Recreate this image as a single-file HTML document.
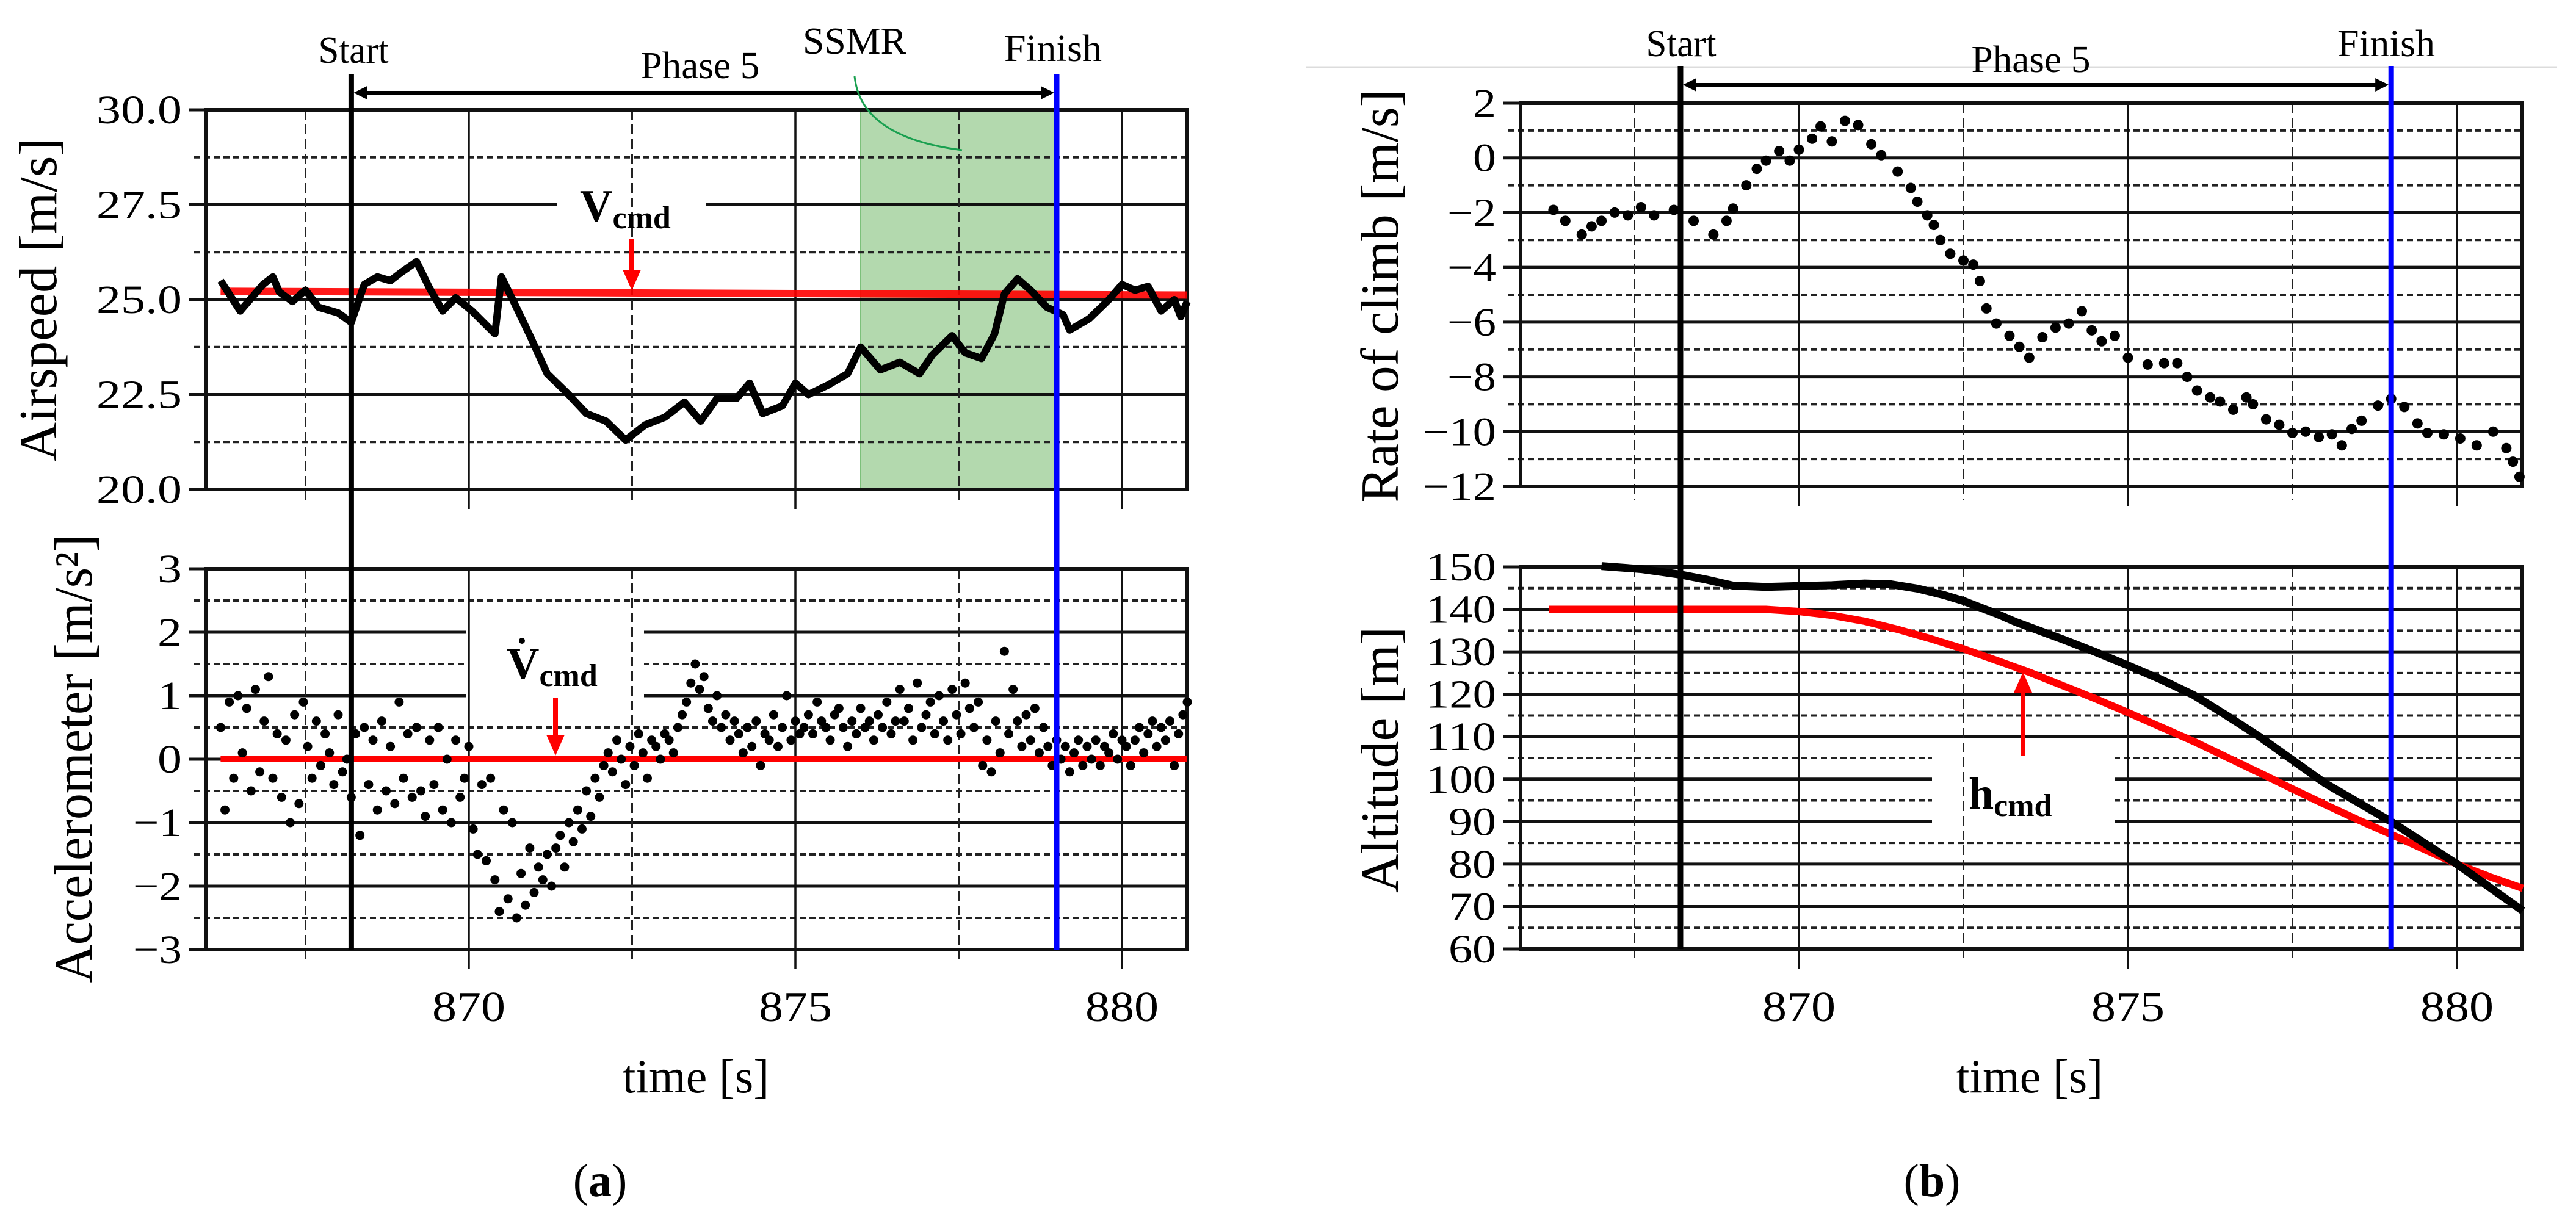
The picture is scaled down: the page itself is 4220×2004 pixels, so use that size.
<!DOCTYPE html>
<html><head><meta charset="utf-8"><style>
html,body{margin:0;padding:0;background:#fff;}
svg{display:block;}
text{font-family:"Liberation Serif",serif;fill:#000;}
</style></head><body>
<svg id="fig" width="4220" height="2004" viewBox="0 0 4220 2004" xmlns="http://www.w3.org/2000/svg"></svg>
<script>
// ---------- data ----------
const airspeedT = [866.2,866.5,866.7,866.85,867.0,867.1,867.3,867.5,867.7,868.0,868.2,868.4,868.6,868.8,868.95,869.2,869.4,869.6,869.8,870.05,870.4,870.5,870.7,870.95,871.2,871.5,871.8,872.1,872.4,872.7,873.0,873.3,873.55,873.8,874.1,874.3,874.5,874.8,875.0,875.2,875.5,875.8,876.0,876.3,876.6,876.9,877.1,877.4,877.6,877.85,878.05,878.2,878.4,878.6,878.85,879.1,879.2,879.5,879.8,880.0,880.2,880.4,880.6,880.8,880.9,881.0];
const airspeedV = [25.5,24.7,25.1,25.4,25.6,25.2,24.95,25.25,24.8,24.65,24.4,25.4,25.6,25.5,25.7,26.0,25.3,24.7,25.05,24.7,24.1,25.6,24.9,24.0,23.05,22.55,22.0,21.8,21.3,21.7,21.9,22.3,21.8,22.4,22.4,22.8,22.0,22.2,22.8,22.5,22.75,23.05,23.75,23.15,23.35,23.05,23.55,24.05,23.6,23.45,24.1,25.15,25.55,25.25,24.8,24.6,24.2,24.5,25.0,25.4,25.25,25.35,24.7,25.0,24.55,24.95];
const vcmdT = [866.2, 881.0];
const vcmdV = [25.22, 25.12];
const accStart = 866.2;
const accStep = 1/15;
const accV = [0.5,-0.8,0.9,-0.3,1.0,0.1,0.8,-0.5,1.1,-0.2,0.6,1.3,-0.3,0.4,-0.6,
0.3,-1.0,0.7,-0.7,0.9,0.2,-0.3,0.6,-0.1,0.4,0.1,-0.4,0.7,-0.2,0.0,
-0.6,0.4,-1.2,0.5,-0.4,0.3,-0.8,0.6,-0.5,0.2,-0.7,0.9,-0.3,0.4,-0.6,
0.5,-0.5,-0.9,0.3,-0.4,0.5,-0.8,0.0,-1.0,0.3,-0.6,-0.3,0.2,-1.1,-1.5,
-0.4,-1.6,-0.3,-1.9,-2.4,-0.8,-2.2,-1.0,-2.5,-1.8,-2.3,-1.4,-2.1,-1.7,-1.9,
-1.5,-2.0,-1.4,-1.2,-1.7,-1.0,-1.3,-0.8,-1.1,-0.5,-0.9,-0.3,-0.6,-0.1,0.1,
-0.2,0.3,0.0,-0.4,0.2,-0.1,0.4,0.1,-0.3,0.3,0.2,0.0,0.4,0.3,0.1,
0.5,0.7,0.9,1.2,1.5,1.1,1.3,0.8,0.6,1.0,0.5,0.7,0.3,0.6,0.4,
0.1,0.5,0.2,0.6,-0.1,0.4,0.3,0.7,0.2,0.5,1.0,0.3,0.6,0.4,0.5,
0.7,0.4,0.9,0.6,0.5,0.3,0.7,0.8,0.5,0.2,0.6,0.4,0.8,0.5,0.6,
0.3,0.7,0.5,0.9,0.4,0.6,1.1,0.6,0.8,0.3,1.2,0.5,0.7,0.9,0.4,
1.0,0.6,0.3,1.1,0.7,0.4,1.2,0.8,0.5,0.9,-0.1,0.3,-0.2,0.6,0.1,
1.7,0.4,1.1,0.6,0.2,0.7,0.3,0.8,0.1,0.5,0.2,-0.1,0.3,0.0,0.2,
-0.2,0.1,0.3,-0.1,0.2,0.0,0.3,-0.1,0.2,0.1,0.4,0.0,0.3,0.2,-0.1,
0.3,0.5,0.1,0.4,0.6,0.2,0.5,0.3,0.6,-0.1,0.4,0.7,0.9];
const rocT = [866.27,866.45,866.7,866.85,867.0,867.2,867.4,867.6,867.8,868.1,868.4,868.7,868.9,869.0,869.2,869.36,869.5,869.7,869.86,870.0,870.2,870.33,870.5,870.7,870.9,871.1,871.25,871.5,871.7,871.8,871.95,872.05,872.15,872.3,872.5,872.65,872.75,872.85,873.0,873.2,873.35,873.5,873.7,873.9,874.1,874.3,874.45,874.6,874.8,875.0,875.3,875.55,875.75,875.9,876.05,876.25,876.4,876.6,876.8,876.9,877.1,877.3,877.5,877.7,877.9,878.1,878.25,878.4,878.55,878.8,879.0,879.2,879.4,879.55,879.8,880.05,880.3,880.55,880.75,880.85,880.95];
const rocV = [-1.9,-2.3,-2.8,-2.5,-2.3,-2.0,-2.1,-1.8,-2.1,-1.9,-2.3,-2.8,-2.3,-1.85,-1.0,-0.4,-0.1,0.25,-0.1,0.3,0.7,1.15,0.6,1.35,1.2,0.5,0.1,-0.5,-1.1,-1.6,-2.1,-2.45,-3.0,-3.5,-3.75,-3.9,-4.5,-5.5,-6.05,-6.5,-6.9,-7.3,-6.55,-6.2,-6.05,-5.6,-6.3,-6.7,-6.5,-7.3,-7.55,-7.5,-7.5,-8.0,-8.5,-8.75,-8.9,-9.2,-8.75,-9.0,-9.55,-9.75,-10.05,-10.0,-10.2,-10.1,-10.5,-9.9,-9.6,-9.05,-8.8,-9.1,-9.7,-10.05,-10.1,-10.25,-10.5,-10.0,-10.6,-11.1,-11.65];
const altT = [867.0,867.6,868.2,868.6,869.0,869.5,870.0,870.5,871.0,871.4,871.8,872.2,872.5,873.0,873.3,874.0,874.5,875.0,875.5,876.0,876.5,877.0,877.5,878.0,878.5,879.0,879.5,880.0,880.5,881.0];
const altV = [150.2,149.5,148.2,147,145.6,145.3,145.5,145.7,146.1,145.9,144.9,143.4,142,139,137,133,130,126.8,123.5,119.8,115,110,104.5,99,94.5,90,85,80,74.5,69];
const hcmdT = [866.2,867.0,868.0,869.0,869.5,870.0,870.5,871.0,871.5,872.0,872.5,873.0,873.5,874.0,874.5,875.0,875.5,876.0,876.5,877.0,877.5,878.0,878.5,879.0,879.5,880.0,880.5,881.0];
const hcmdV = [140,140,140,140,140,139.5,138.6,137.2,135.3,133.1,130.7,128,125.2,122.1,119,115.7,112.3,108.9,105.2,101.5,97.7,94,90.4,87,83.5,80,77,74.3];
const xTicks = [870, 875, 880];
const xMinor = [867.5, 872.5, 877.5];
const airTicks = ["30.0","27.5","25.0","22.5","20.0"];
const accTicks = ["3","2","1","0","\u22121","\u22122","\u22123"];
const rocTicks = ["2","0","\u22122","\u22124","\u22126","\u22128","\u221210","\u221212"];
const altTicks = ["150","140","130","120","110","100","90","80","70","60"];
const tStart = 868.2, tFinish = 879.0, ssmrStart = 876.0;

// ---------- helpers ----------
const NS = "http://www.w3.org/2000/svg";
const svg = document.getElementById("fig");
function mk(tag, attrs, parent){
  const e = document.createElementNS(NS, tag);
  for (const k in attrs) e.setAttribute(k, attrs[k]);
  (parent||svg).appendChild(e);
  return e;
}
function lin(d0,d1,r0,r1){ return v => r0 + (v-d0)*(r1-r0)/(d1-d0); }
function txt(x,y,s,size,anchor,parent,extra){
  const t = mk("text", Object.assign({x:x,y:y,"font-size":size,"text-anchor":anchor||"middle"}, extra||{}), parent);
  t.textContent = s; return t;
}

function panel(o){
  const g = mk("g", {});
  
  
  const X = o.x, Y = o.y;
  o.yMajors.forEach(v=>{
    const l = mk("line",{x1:o.L-28,x2:o.R,y1:Y(v),y2:Y(v),stroke:"#111","stroke-width":5},g);
    
    
  });
  o.yMinors.forEach(v=>{
    const l = mk("line",{x1:o.L-20,x2:o.R,y1:Y(v),y2:Y(v),stroke:"#222","stroke-width":4,"stroke-dasharray":"10 6"},g);
    
    
  });
  if (o.box) {
    const b = mk("rect",{x:o.box[0],y:o.box[1],width:o.box[2],height:o.box[3],fill:"#fff"},g);
    
    
  }
  xTicks.forEach(t=>{
    const l = mk("line",{x1:X(t),x2:X(t),y1:o.T,y2:o.B+32,stroke:"#111","stroke-width":3.5},g);
    
    
  });
  xMinor.forEach(t=>{
    const l = mk("line",{x1:X(t),x2:X(t),y1:o.T,y2:o.B+22,stroke:"#222","stroke-width":3,"stroke-dasharray":"16 8"},g);
    
    
  });
  const f = mk("rect",{x:o.L,y:o.T,width:o.R-o.L,height:o.B-o.T,fill:"none",stroke:"#111","stroke-width":6},g);
  
  
  o.tickVals.forEach((v,i)=>{
    const t = txt(o.L-40, Y(v)+22, o.tickLabels[i], 66, "end", g, {"textLength":o.tickW[i], "lengthAdjust":"spacingAndGlyphs"});
    
    
  });
  if (o.xLabels) xTicks.forEach(t=>{
    const s = txt(X(t), 1673, String(t), 70, "middle", g, {"textLength":120,"lengthAdjust":"spacingAndGlyphs"});
    
    
  });
  const yt = txt(0,0,o.title,88,"middle",g,{transform:`translate(${o.titleX},${o.titleY}) rotate(-90)`,textLength:o.titleLen,lengthAdjust:"spacingAndGlyphs"});
  
  
  return g;
}

// ---------- LEFT TOP: airspeed ----------
const xl = lin(870,875,768,1303);
const yAir = lin(30,20,180,802);
const band = mk("rect",{x:xl(ssmrStart),y:180,width:xl(tFinish)-xl(ssmrStart),height:622,fill:"#b3d9ae",stroke:"#7cc07a","stroke-width":2});


const pA = panel({name:"airspeed-panel",x:xl,y:yAir,L:338,R:1944,T:180,B:802,
  yMajors:[30,27.5,25,22.5,20], yMinors:[28.75,26.25,23.75,21.25],
  box:[913,305,244,70],
  tickVals:[30,27.5,25,22.5,20], tickLabels:airTicks, tickW:[140,140,140,140,140],
  title:"Airspeed [m/s]", titleX:92, titleY:491, titleLen:530});
const vcmdLine = mk("polyline",{points:vcmdT.map((t,i)=>xl(t)+","+yAir(vcmdV[i])).join(" "),stroke:"#ff0000","stroke-width":12,fill:"none","stroke-opacity":0.9});


const airLine = mk("polyline",{points:airspeedT.map((t,i)=>xl(t)+","+yAir(airspeedV[i])).join(" "),stroke:"#000","stroke-width":12,fill:"none","stroke-linejoin":"round"});


const vl = mk("text",{x:950,y:362,"font-size":74,"font-weight":"bold"});
vl.innerHTML = 'V<tspan font-size="52" dy="12">cmd</tspan>';



// ---------- LEFT BOTTOM: accelerometer ----------
const yAcc = lin(3,-3,932,1556);
const pB = panel({name:"accelerometer-panel",x:xl,y:yAcc,L:338,R:1944,T:932,B:1556,
  yMajors:[3,2,1,0,-1,-2,-3], yMinors:[2.5,1.5,0.5,-0.5,-1.5,-2.5],
  box:[764,1013,291,130],
  tickVals:[3,2,1,0,-1,-2,-3], tickLabels:accTicks, tickW:[40,40,40,40,80,80,80],
  title:"Accelerometer [m/s\u00B2]", titleX:150, titleY:1243, titleLen:735, xLabels:true});
const zeroLine = mk("line",{x1:xl(866.2),x2:1944,y1:yAcc(0),y2:yAcc(0),stroke:"#ff0000","stroke-width":10});


const accG = mk("g",{fill:"#000"});


accV.forEach((v,i)=>{
  const c = mk("circle",{cx:xl(accStart+i*accStep),cy:yAcc(v),r:7.5},accG);
  
  
});
const vdl = mk("text",{x:830,y:1112,"font-size":74,"font-weight":"bold"});
vdl.innerHTML = 'V<tspan font-size="52" dy="12">cmd</tspan>';


const dot = mk("circle",{cx:855,cy:1050,r:5,fill:"#000"});



// ---------- RIGHT TOP: rate of climb ----------
const xr = lin(870,875,2947,3486);
const yRoc = lin(2,-12,169,797);
const sep = mk("line",{x1:2140,x2:4189,y1:110,y2:110,stroke:"#dcdcdc","stroke-width":3});


const pC = panel({name:"rate-of-climb-panel",x:xr,y:yRoc,L:2491,R:4132,T:169,B:797,
  yMajors:[2,0,-2,-4,-6,-8,-10,-12], yMinors:[1,-1,-3,-5,-7,-9,-11],
  tickVals:[2,0,-2,-4,-6,-8,-10,-12], tickLabels:rocTicks, tickW:[38,38,80,80,80,80,120,120],
  title:"Rate of climb [m/s]", titleX:2290, titleY:485, titleLen:677});
const rocG = mk("g",{fill:"#000"});


rocT.forEach((t,i)=>{
  const c = mk("circle",{cx:xr(t),cy:yRoc(rocV[i]),r:8.5},rocG);
  
  
});

// ---------- RIGHT BOTTOM: altitude ----------
const yAlt = lin(150,60,929,1555);
const pD = panel({name:"altitude-panel",x:xr,y:yAlt,L:2491,R:4132,T:929,B:1555,
  yMajors:[150,140,130,120,110,100,90,80,70,60], yMinors:[145,135,125,115,105,95,85,75,65],
  box:[3165,1231,300,120],
  tickVals:[150,140,130,120,110,100,90,80,70,60], tickLabels:altTicks, tickW:[115,115,115,115,115,115,78,78,78,78],
  title:"Altitude [m]", titleX:2290, titleY:1245, titleLen:436, xLabels:true});
const hLine = mk("polyline",{points:hcmdT.map((t,i)=>xr(t)+","+yAlt(hcmdV[i])).join(" "),stroke:"#ff0000","stroke-width":12,fill:"none"});


const aLine = mk("polyline",{points:altT.map((t,i)=>xr(t)+","+yAlt(altV[i])).join(" "),stroke:"#000","stroke-width":13,fill:"none"});


const hl = mk("text",{x:3225,y:1325,"font-size":74,"font-weight":"bold"});
hl.innerHTML = 'h<tspan font-size="52" dy="12">cmd</tspan>';



// ---------- event lines & annotations ----------
function vline(x,y1,y2,color,name){
  const l = mk("line",{x1:x,x2:x,y1:y1,y2:y2,stroke:color,"stroke-width":9});
  
  
}
vline(xl(tStart),121,1556,"#000","start-line-a");
vline(xl(tFinish),121,1556,"#0000ff","finish-line-a");
vline(xr(tStart),108,1555,"#000","start-line-b");
vline(xr(tFinish),108,1555,"#0000ff","finish-line-b");

function dblArrow(x1,x2,y,name){
  const g = mk("g",{});
  
  
  mk("line",{x1:x1+10,x2:x2-10,y1:y,y2:y,stroke:"#000","stroke-width":6},g);
  mk("polygon",{points:`${x1},${y} ${x1+22},${y-11} ${x1+22},${y+11}`,fill:"#000"},g);
  mk("polygon",{points:`${x2},${y} ${x2-22},${y-11} ${x2-22},${y+11}`,fill:"#000"},g);
}
dblArrow(xl(tStart)+4,xl(tFinish)-4,152,"phase5-arrow-a");
dblArrow(xr(tStart)+4,xr(tFinish)-4,139,"phase5-arrow-b");

function redArrow(x,yTail,yHead,name){
  const g = mk("g",{});
  
  
  const dir = yHead>yTail?1:-1;
  mk("line",{x1:x,x2:x,y1:yTail,y2:yHead-dir*30,stroke:"#ff0000","stroke-width":8},g);
  mk("polygon",{points:`${x},${yHead} ${x-15},${yHead-dir*34} ${x+15},${yHead-dir*34}`,fill:"#ff0000"},g);
}
redArrow(1035,391,476,"vcmd-arrow");
redArrow(910,1143,1238,"vdot-cmd-arrow");
redArrow(3314,1238,1101,"hcmd-arrow");

function label(x,y,s,name,len){
  const t = txt(x,y,s,62,"middle",svg,len?{textLength:len,lengthAdjust:"spacingAndGlyphs"}:{});
  
  
}
label(579,103,"Start","start-label-a",115);
label(1147,128,"Phase 5","phase5-label-a",195);
label(1400,88,"SSMR","ssmr-label",170);
label(1725,100,"Finish","finish-label-a",160);
label(2754,92,"Start","start-label-b",115);
label(3327,118,"Phase 5","phase5-label-b",195);
label(3909,92,"Finish","finish-label-b",160);

const gc = mk("path",{d:"M1400,125 Q1410,225 1576,246",stroke:"#1aa050","stroke-width":3,fill:"none"});



function title(x,y,s,name){
  const t = txt(x,y,s,78,"middle");
  
  
}
title(1140,1790,"time [s]","x-axis-title-a");
title(3325,1790,"time [s]","x-axis-title-b");
const ca = mk("text",{x:983,y:1960,"font-size":76,"text-anchor":"middle"});
ca.innerHTML = '(<tspan font-weight="bold">a</tspan>)';


const cb = mk("text",{x:3165,y:1960,"font-size":76,"text-anchor":"middle"});
cb.innerHTML = '(<tspan font-weight="bold">b</tspan>)';


</script>
</body></html>
